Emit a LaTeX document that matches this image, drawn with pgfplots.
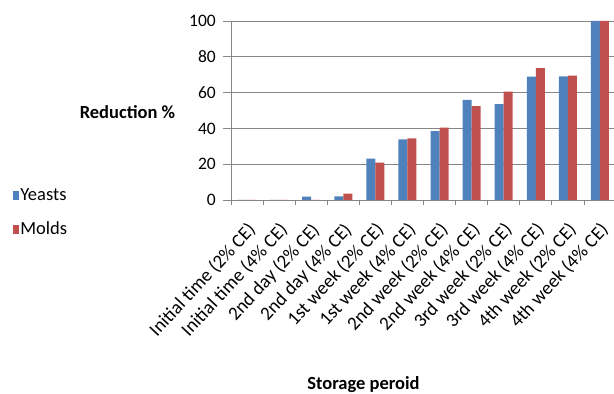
\documentclass[border=0pt]{standalone}
\usepackage{fontspec}
\setmainfont{Carlito}
\usepackage{pgfplots}
\pgfplotsset{compat=1.18}
\definecolor{yeast}{RGB}{79,129,189}
\definecolor{mold}{RGB}{192,80,77}
\definecolor{axgray}{RGB}{134,134,134}
\begin{document}
\begin{tikzpicture}[x=1pt,y=1pt]
\useasboundingbox (0,0) rectangle (614,394);
\begin{axis}[
  at={(231pt,194pt)}, anchor=south west,
  scale only axis, width=385pt, height=179pt,
  ybar=0pt, bar width=9pt,
  xmin=-0.5, xmax=11.5, ymin=0, ymax=100,
  ytick={0,20,40,60,80,100},
  xtick={0,...,11},
  xticklabels={Initial time (2\% CE),Initial time (4\% CE),2nd day (2\% CE),2nd day (4\% CE),1st week (2\% CE),1st week (4\% CE),2nd week (2\% CE),2nd week (4\% CE),3rd week (2\% CE),3rd week (4\% CE),4th week (2\% CE),4th week (4\% CE)},
  xtick style={draw=none},
  extra x ticks={-0.5,0.5,...,11.5},
  extra x tick labels={},
  extra x tick style={xtick style={draw=axgray, line width=0.8pt}, major tick length=5pt, grid=none},
  axis lines*=left,
  axis line style={draw=axgray, line width=0.8pt},
  ytick style={draw=axgray, line width=0.8pt},
  tick align=outside, major tick length=8pt,
  ymajorgrids, grid style={draw=axgray, line width=0.8pt},
  /pgf/number format/assume math mode=true,
  yticklabel style={font=\fontsize{17.5}{21}\selectfont, inner sep=0pt, xshift=-7pt},
  xticklabel style={font=\fontsize{19}{22}\selectfont, xshift=-1pt, yshift=-13pt, rotate=47, anchor=north east, inner sep=0pt},
  legend style={at={(axis description cs:-0.566,-0.07)}, anchor=west, draw=none, fill=none, inner sep=0pt, font=\fontsize{18.5}{22}\selectfont, row sep=18pt, nodes={inner sep=1pt}},
  legend cell align=left,
  legend image code/.code={\fill[#1] (0pt,-4.5pt) rectangle (6pt,4.5pt);},
  clip=false,
]
\addplot[fill=yeast, draw=none] coordinates {(0,0) (1,0) (2,1.9) (3,2.0) (4,23.1) (5,33.9) (6,38.5) (7,55.9) (8,53.6) (9,68.9) (10,69.1) (11,100)};
\addplot[fill=mold, draw=none] coordinates {(0,0) (1,0) (2,0) (3,3.5) (4,20.9) (5,34.4) (6,40.4) (7,52.5) (8,60.5) (9,73.7) (10,69.5) (11,100)};
\legend{Yeasts,Molds}
\end{axis}
\node[anchor=base, font=\bfseries\fontsize{18.5}{22}\selectfont, inner sep=0pt] at (127.5,275) {Reduction \%};
\node[anchor=base, font=\bfseries\fontsize{18.5}{22}\selectfont, inner sep=0pt] at (363.5,4) {Storage peroid};
\end{tikzpicture}
\end{document}
